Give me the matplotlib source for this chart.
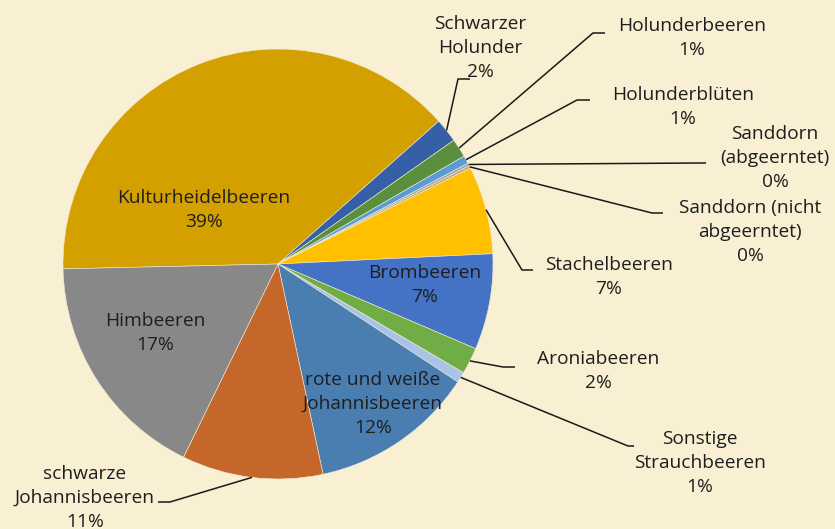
import matplotlib
matplotlib.use("Agg")
import matplotlib.pyplot as plt
import numpy as np

# ---- data ----
categories = ["Kulturheidelbeeren", "Schwarzer Holunder", "Holunderbeeren", "Holunderblüten",
              "Sanddorn (abgeerntet)", "Sanddorn (nicht abgeerntet)", "Stachelbeeren", "Brombeeren",
              "Aroniabeeren", "Sonstige Strauchbeeren", "rote und weiße Johannisbeeren",
              "schwarze Johannisbeeren", "Himbeeren"]
values = [38.8, 1.8, 1.4, 0.6, 0.2, 0.2, 6.6, 7.2, 2.0, 0.8, 12.4, 10.6, 17.4]
label_texts = ["Kulturheidelbeeren", "Schwarzer\nHolunder", "Holunderbeeren", "Holunderblüten",
               "Sanddorn\n(abgeerntet)", "Sanddorn (nicht\nabgeerntet)", "Stachelbeeren", "Brombeeren",
               "Aroniabeeren", "Sonstige\nStrauchbeeren", "rote und weiße\nJohannisbeeren",
               "schwarze\nJohannisbeeren", "Himbeeren"]
colors = ["#D4A000", "#3560A6", "#5A8F3E", "#5B9BD5", "#A5A5A5", "#B9A98A", "#FFC000", "#4472C4",
          "#70AD47", "#A9C3E6", "#4A7EB0", "#C5662A", "#888888"]

# ---- layout (pixel coordinates of the 835x529 canvas) ----
W, H = 835, 529
CX, CY, R = 278, 264, 215
START = 181.3
# label centre positions (px) and leader paths (None = inside label)
label_pos = [(204, 210), (480, 48), (692, 38), (683, 107), (775, 158), (750, 232),
             (609, 277), (425, 285), (598, 371), (700, 463), (373, 404), (85, 498), (155, 333)]
leader_pts = [None,
              [(458, 79), (470, 79)],
              [(593, 33), (605, 33)],
              [(577, 100), (590, 100)],
              [(700, 163), (706, 163)],
              [(652, 213), (663, 213)],
              [(522, 270), (533, 270)],
              None,
              [(503, 367), (515, 367)],
              [(628, 446), (634, 446)],
              None,
              [(170, 502), (158, 502)],
              None]

TEXT = "#1E1E1E"
BG = "#F9EFD3"
plt.rcParams['font.family'] = ['Open Sans', 'DejaVu Sans']

fig = plt.figure(figsize=(W / 100, H / 100), dpi=100, facecolor=BG)
ax = fig.add_axes([0, 0, 1, 1])
ax.set_facecolor(BG)

wedges, _ = ax.pie(values, colors=colors, startangle=START, counterclock=False,
                   center=(CX, H - CY), radius=R,
                   wedgeprops=dict(edgecolor="#F4EBD6", linewidth=0.4))
ax.set_xlim(0, W)
ax.set_ylim(0, H)
ax.set_aspect('equal')
ax.axis('off')

for i, w in enumerate(wedges):
    pct = f"{values[i] / sum(values) * 100:.0f}%"
    lx, ly = label_pos[i]
    ax.text(lx, H - ly, f"{label_texts[i]}\n{pct}", ha='center', va='center',
            multialignment='center', fontsize=13.8, color=TEXT, linespacing=1.45)
    if leader_pts[i] is not None:
        mid = np.deg2rad((w.theta1 + w.theta2) / 2)
        sx = CX + R * np.cos(mid)
        sy = H - CY + R * np.sin(mid)
        xs = [sx] + [p[0] for p in leader_pts[i]]
        ys = [sy] + [H - p[1] for p in leader_pts[i]]
        ax.plot(xs, ys, color="#1A1A1A", linewidth=1.1, solid_capstyle='butt')

fig.savefig("out.png", dpi=100, facecolor=BG)
